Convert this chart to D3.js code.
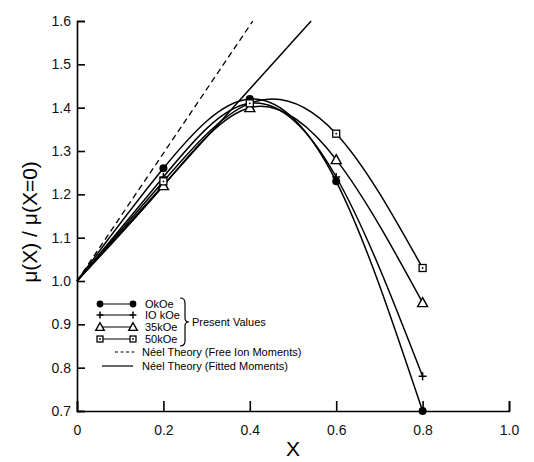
<!DOCTYPE html>
<html>
<head>
<meta charset="utf-8">
<script src="https://cdn.jsdelivr.net/npm/d3@7"></script>
<style>
  body { margin: 0; background: #fff; }
  svg { font-family: "Liberation Sans", Arial, sans-serif; }
</style>
</head>
<body>
<div id="chart"></div>
<script>
// data
var xValues = [0, 0.2, 0.4, 0.6, 0.8];
var mu0kOe  = [1.00, 1.26, 1.42, 1.23, 0.70];
var mu10kOe = [1.00, 1.24, 1.41, 1.24, 0.78];
var mu35kOe = [1.00, 1.22, 1.40, 1.28, 0.95];
var mu50kOe = [1.00, 1.23, 1.41, 1.34, 1.03];
var neelFreeIon = [[0, 1.0], [0.407, 1.6]];
var neelFitted  = [[0, 1.0], [0.542, 1.6]];
var xTicks = [0, 0.2, 0.4, 0.6, 0.8, 1.0];
var xTickLabels = ["0", "0.2", "0.4", "0.6", "0.8", "1.0"];
var yTicks = [0.7, 0.8, 0.9, 1.0, 1.1, 1.2, 1.3, 1.4, 1.5, 1.6];
var seriesNames = ["OkOe", "IO kOe", "35kOe", "50kOe"];
var seriesSymbols = ["circle", "plus", "triangle", "square"];

var series = [mu0kOe, mu10kOe, mu35kOe, mu50kOe];

//Dimensions and Margins
var margin = { top: 21, right: 25, bottom: 51, left: 77 },
    width = 534 - margin.left - margin.right,
    height = 462 - margin.top - margin.bottom;

var svg = d3.select("#chart")
    .append("svg")
    .attr("width", 534)
    .attr("height", 462)
    .append("g")
    .attr("transform", "translate(" + margin.left + "," + margin.top + ")");

var x = d3.scaleLinear().domain([0, 1.0]).range([0, width]);
var y = d3.scaleLinear().domain([0.7, 1.6]).range([height, 0]);

//X axis (ticks pointing up, into the plot)
var xAxis = svg.append("g")
    .attr("transform", "translate(0," + height + ")")
    .call(d3.axisBottom(x).tickValues(xTicks).tickSize(-10).tickPadding(14)
        .tickFormat(function (d, i) { return xTickLabels[i]; }));
xAxis.select(".domain").attr("stroke-width", 1.6);
xAxis.selectAll(".tick line").attr("stroke-width", 1.6);
xAxis.selectAll("text").style("font-size", "14px").attr("fill", "#111");

//Y axis (ticks pointing right)
var yAxis = svg.append("g")
    .call(d3.axisLeft(y).tickValues(yTicks).tickSize(-8).tickPadding(6)
        .tickFormat(d3.format(".1f")));
yAxis.select(".domain").attr("stroke-width", 1.6);
yAxis.selectAll(".tick line").attr("stroke-width", 1.6);
yAxis.selectAll("text").style("font-size", "14px").attr("fill", "#111");

//Neel theory lines
var straight = d3.line()
    .x(function (d) { return x(d[0]); })
    .y(function (d) { return y(d[1]); });

svg.append("path")
    .datum(neelFreeIon)
    .attr("d", straight)
    .attr("fill", "none")
    .attr("stroke", "#000")
    .attr("stroke-width", 1.3)
    .attr("stroke-dasharray", "6,4");

svg.append("path")
    .datum(neelFitted)
    .attr("d", straight)
    .attr("fill", "none")
    .attr("stroke", "#000")
    .attr("stroke-width", 1.5);

//Curves through the measured points
var curve = d3.line()
    .x(function (d, i) { return x(xValues[i]); })
    .y(function (d) { return y(d); })
    .curve(d3.curveNatural);

series.forEach(function (s) {
    svg.append("path")
        .datum(s)
        .attr("d", curve)
        .attr("fill", "none")
        .attr("stroke", "#000")
        .attr("stroke-width", 1.5);
});

function drawSymbol(g, kind, cx, cy, sc) {
    sc = sc || 1;
    if (kind === "circle") {
        g.append("circle").attr("cx", cx).attr("cy", cy).attr("r", 4 * sc).attr("fill", "#000");
    } else if (kind === "plus") {
        var p = 4 * sc;
        g.append("path")
            .attr("d", "M" + (cx - p) + "," + cy + "H" + (cx + p) + "M" + cx + "," + (cy - p) + "V" + (cy + p))
            .attr("stroke", "#000").attr("stroke-width", 1.5);
    } else if (kind === "triangle") {
        var t = 5 * sc;
        g.append("path")
            .attr("d", "M" + cx + "," + (cy - t) + "L" + (cx + t) + "," + (cy + t * 0.8) + "L" + (cx - t) + "," + (cy + t * 0.8) + "Z")
            .attr("fill", "#fff").attr("stroke", "#000").attr("stroke-width", 1.4);
    } else {
        var h = 3.5 * sc;
        g.append("rect").attr("x", cx - h).attr("y", cy - h).attr("width", 2 * h).attr("height", 2 * h)
            .attr("fill", "#fff").attr("stroke", "#000").attr("stroke-width", 1.3);
        g.append("circle").attr("cx", cx).attr("cy", cy).attr("r", 0.9).attr("fill", "#000");
    }
}

//Markers (no marker at X = 0)
var marks = svg.append("g");
series.forEach(function (s, k) {
    s.forEach(function (v, i) {
        if (i > 0) drawSymbol(marks, seriesSymbols[k], x(xValues[i]), y(v));
    });
});

//Legend
var legend = svg.append("g").attr("transform", "translate(" + (-margin.left) + "," + (-margin.top) + ")");
var rowY = [304, 315, 327, 339];
seriesNames.forEach(function (name, k) {
    legend.append("line")
        .attr("x1", 100).attr("x2", 133)
        .attr("y1", rowY[k]).attr("y2", rowY[k])
        .attr("stroke", "#000").attr("stroke-width", 1.2);
    drawSymbol(legend, seriesSymbols[k], 100, rowY[k], 0.85);
    drawSymbol(legend, seriesSymbols[k], 133, rowY[k], 0.85);
    legend.append("text")
        .attr("x", 145).attr("y", rowY[k])
        .attr("dy", "0.35em")
        .style("font-size", "11px")
        .text(name);
});

//Brace
legend.append("path")
    .attr("d", "M180,298 Q185,298 185,303 L185,318 Q185,322 189,322 Q185,322 185,326 L185,341 Q185,346 180,346")
    .attr("fill", "none")
    .attr("stroke", "#000")
    .attr("stroke-width", 1.2);
legend.append("text")
    .attr("x", 192).attr("y", 322)
    .attr("dy", "0.35em")
    .style("font-size", "11px")
    .text("Present Values");

legend.append("line")
    .attr("x1", 115).attr("x2", 137).attr("y1", 352).attr("y2", 352)
    .attr("stroke", "#000").attr("stroke-width", 1.2).attr("stroke-dasharray", "3,2.5");
legend.append("text")
    .attr("x", 142).attr("y", 352).attr("dy", "0.35em")
    .style("font-size", "11px")
    .text("Néel Theory (Free Ion Moments)");

legend.append("line")
    .attr("x1", 102).attr("x2", 133).attr("y1", 366).attr("y2", 366)
    .attr("stroke", "#000").attr("stroke-width", 1.2);
legend.append("text")
    .attr("x", 142).attr("y", 366).attr("dy", "0.35em")
    .style("font-size", "11px")
    .text("Néel Theory (Fitted Moments)");

//X Axis label
svg.append("text")
    .attr("x", x(0.5))
    .attr("y", height + 45)
    .attr("text-anchor", "middle")
    .style("font-size", "21px")
    .text("X");

//Y Axis label
svg.append("text")
    .attr("transform", "rotate(-90)")
    .attr("x", -(222 - margin.top))
    .attr("y", 30 - margin.left)
    .attr("dy", "0.35em")
    .attr("text-anchor", "middle")
    .style("font-size", "21px")
    .text("μ(X) / μ(X=0)");
</script>
</body>
</html>
